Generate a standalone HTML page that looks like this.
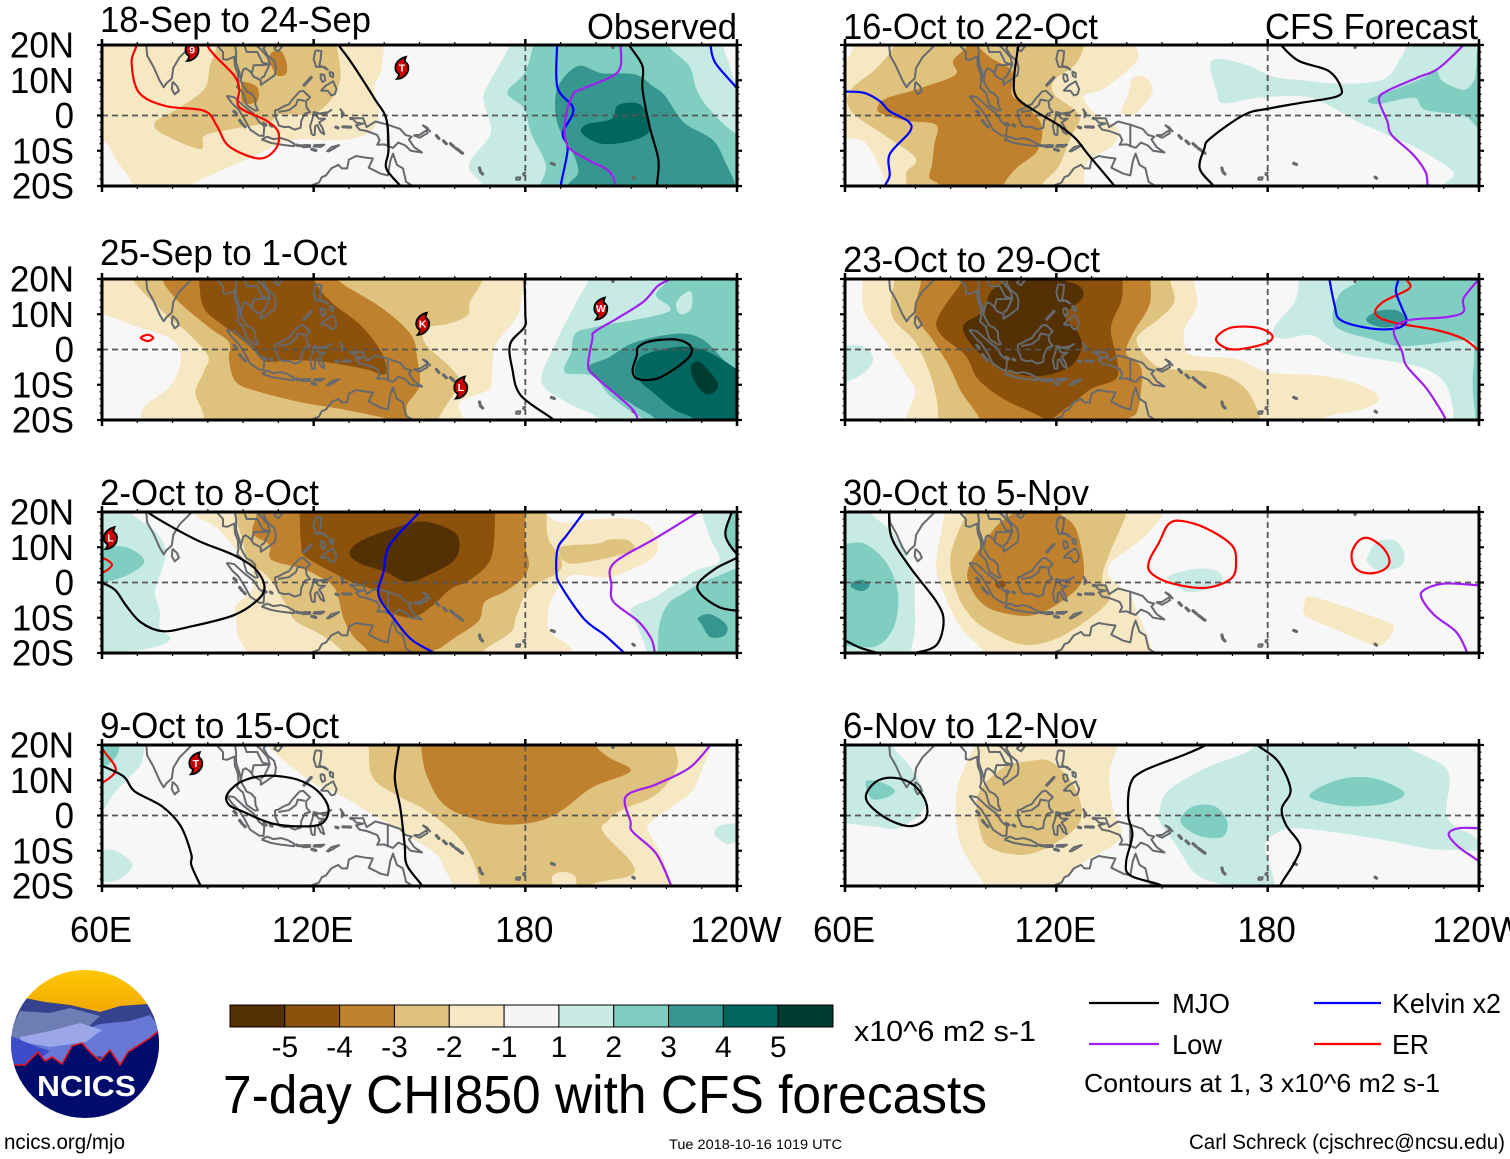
<!DOCTYPE html>
<html lang="en">
<head>
<meta charset="utf-8">
<title>7-day CHI850 with CFS forecasts</title>
<style>
html,body{margin:0;padding:0;background:#fff;width:1510px;height:1159px;overflow:hidden}
svg{display:block}
text{font-family:"Liberation Sans",sans-serif;fill:#000}
</style>
</head>
<body>
<svg id="chart" xmlns="http://www.w3.org/2000/svg" width="1510" height="1159" viewBox="0 0 1510 1159">
  <defs>
    <clipPath id="logo-clip"><ellipse cx="85" cy="1044" rx="74" ry="74"/></clipPath>
    <linearGradient id="sky" x1="0" y1="0" x2="0" y2="1"><stop offset="0" stop-color="#ffcb00"/><stop offset="1" stop-color="#ee9f06"/></linearGradient>
  </defs>
  <g id="panels"></g>

  <g font-size="36">
    <text x="100" y="32" textLength="271" lengthAdjust="spacingAndGlyphs">18-Sep to 24-Sep</text>
    <text x="587" y="39" textLength="150" lengthAdjust="spacingAndGlyphs">Observed</text>
    <text x="100" y="265" textLength="247" lengthAdjust="spacingAndGlyphs">25-Sep to 1-Oct</text>
    <text x="100" y="505" textLength="219" lengthAdjust="spacingAndGlyphs">2-Oct to 8-Oct</text>
    <text x="100" y="738" textLength="239" lengthAdjust="spacingAndGlyphs">9-Oct to 15-Oct</text>
    <text x="843" y="39" textLength="255" lengthAdjust="spacingAndGlyphs">16-Oct to 22-Oct</text>
    <text x="1265" y="39" textLength="213" lengthAdjust="spacingAndGlyphs">CFS Forecast</text>
    <text x="843" y="272" textLength="257" lengthAdjust="spacingAndGlyphs">23-Oct to 29-Oct</text>
    <text x="843" y="505" textLength="246" lengthAdjust="spacingAndGlyphs">30-Oct to 5-Nov</text>
    <text x="843" y="738" textLength="254" lengthAdjust="spacingAndGlyphs">6-Nov to 12-Nov</text>
  </g>

  <g>
    <g clip-path="url(#logo-clip)">
      <rect x="5" y="965" width="160" height="60" fill="url(#sky)"/>
      <polygon fill="#35438f" points="11,1006 25,998 45,1002 70,1005 100,1012 120,1006 148,1004 160,1020 160,1100 11,1100"/>
      <polygon fill="#6e7db4" points="11,1028 20,1011 50,1013 70,1008 100,1016 85,1030 60,1040 11,1048"/>
      <polygon fill="#6878d6" points="15,1060 28,1040 70,1035 100,1024 130,1021 150,1015 160,1028 160,1042 135,1060 120,1064 100,1056 11,1072"/>
      <polygon fill="#9ba7e9" points="20,1037 50,1031 80,1023 102,1030 86,1042 50,1047 22,1042"/>
      <polygon fill="#3b4dc9" points="11,1036 35,1046 50,1051 30,1066 11,1067"/>
      <polygon fill="#000c6c" stroke="#e8141e" stroke-width="1.6" points="11,1065 25,1065 38,1052 45,1061 52,1057 62,1064 72,1046 82,1043 90,1052 100,1061 110,1050 120,1065 128,1052 150,1038 162,1028 162,1122 9,1122"/>
    </g>
    <text x="37" y="1096" font-size="29" font-weight="700" textLength="99" lengthAdjust="spacingAndGlyphs" style="fill:#fff">NCICS</text>
  </g>

  <g id="colorbar"></g>
  <text x="854" y="1041" font-size="29" textLength="182" lengthAdjust="spacingAndGlyphs">x10^6 m2 s-1</text>
  <text x="223" y="1113" font-size="54" textLength="764" lengthAdjust="spacingAndGlyphs">7-day CHI850 with CFS forecasts</text>

  <g>
    <line x1="1089" x2="1159" y1="1003" y2="1003" stroke="#000" stroke-width="2.2"/>
    <text x="1172" y="1013" font-size="28" textLength="58" lengthAdjust="spacingAndGlyphs">MJO</text>
    <line x1="1314" x2="1381" y1="1003" y2="1003" stroke="#0000ff" stroke-width="2.2"/>
    <text x="1392" y="1013" font-size="28" textLength="109" lengthAdjust="spacingAndGlyphs">Kelvin x2</text>
    <line x1="1089" x2="1159" y1="1044" y2="1044" stroke="#a020f0" stroke-width="2.2"/>
    <text x="1172" y="1054" font-size="28" textLength="50" lengthAdjust="spacingAndGlyphs">Low</text>
    <line x1="1314" x2="1381" y1="1044" y2="1044" stroke="#ff0000" stroke-width="2.2"/>
    <text x="1392" y="1054" font-size="28" textLength="37" lengthAdjust="spacingAndGlyphs">ER</text>
    <text x="1084" y="1092" font-size="26" textLength="356" lengthAdjust="spacingAndGlyphs">Contours at 1, 3 x10^6 m2 s-1</text>
  </g>

  <text x="4" y="1149" font-size="21" textLength="121" lengthAdjust="spacingAndGlyphs">ncics.org/mjo</text>
  <text x="669" y="1149" font-size="14" textLength="173" lengthAdjust="spacingAndGlyphs">Tue 2018-10-16 1019 UTC</text>
  <text x="1189" y="1149" font-size="21" textLength="316" lengthAdjust="spacingAndGlyphs">Carl Schreck (cjschrec@ncsu.edu)</text>
</svg>

<script>
// ---------- axis data ----------
const lonMajorTicks = [60,120,180,240];
const lonTickLabels = ['60E','120E','180','120W'];
const latMajorTicks = [20,10,0,-10,-20];
const latTickLabels = ['20N','10N','0','10S','20S'];
const shadingColors = ['#543005','#8c510a','#bf812d','#dfc27d','#f6e8c3','#f5f5f5','#c7eae5','#80cdc1','#35978f','#01665e','#003c30'];
const colorbarLabels = ['-5','-4','-3','-2','-1','1','2','3','4','5'];

// ---------- coastlines (lon, lat) ----------
const coastlines = [
 [[68,23],[69,21],[72.5,20.5],[72.8,17],[74.5,14],[76.3,10],[77.5,8],[78.3,9.2],[79.8,10.5],[80.2,13.5],[82,16.5],[85,19.5],[87,21.5]],
 [[80,9.6],[81.3,8.3],[81.8,7],[80.6,6],[79.8,7.5],[80,9.6]],
 [[89,22],[91,22.5],[92,20.5],[94.3,18],[94.3,16],[95.5,15.8],[97.5,16.7],[97.7,14],[98.5,12],[98.7,9.5],[98.3,8],[100,6.5],[100.4,5],[101,3],[103.4,1.4],[104.2,1.5],[103.5,3],[103.4,5],[102.3,6.2],[101,6.8],[100,8.5],[99.3,10],[100,13],[100.7,13.4],[102,12.5],[103,11],[105,10],[105,8.7],[106.5,9.7],[109,11.5],[109.3,13.5],[108.8,15.5],[107,17],[105.8,19],[106.7,20.5],[108,21.5]],
 [[97.5,21],[98,18],[98,15],[99,12],[99.3,10.5]],
 [[100,21],[101,18],[104,18],[105.5,15],[107.5,14.5],[107,16.5],[105,18.8],[103,20.5],[102,22]],
 [[102.5,12],[103,14.3],[105.5,14.3],[107.5,14.5],[106,11.2],[105,10.5]],
 [[108.7,19],[110,20],[111,19.5],[110,18.2],[108.7,19]],
 [[120.5,18.5],[122.2,18.3],[122,16],[121.6,14.3],[124,13],[123,13.8],[120.7,13.8],[120,16],[120.5,18.5]],
 [[122,7],[123.5,8.5],[125.5,9.7],[126.5,7.5],[126,6],[125,5.7],[124,7],[122,7]],
 [[124.5,12.5],[125.5,12],[125.5,10.8],[124.7,11.2],[124.5,12.5]],
 [[122,11.8],[123,11.5],[123.3,10],[122.5,9.5],[122,10.5],[122,11.8]],
 [[95.3,5.6],[97.5,5.2],[100.4,2.5],[103,0.5],[104.5,-1.8],[106,-3],[105.8,-5.8],[104.5,-5.7],[102,-4],[100.4,-1],[98.7,1.7],[97,3.3],[95.3,5.6]],
 [[105.2,-6.8],[106.8,-6],[108.5,-6.7],[110.7,-6.4],[112.7,-7],[114.5,-8],[114.4,-8.7],[111,-8.3],[108,-7.8],[105.2,-6.8]],
 [[117,-8.4],[119,-8.4],[119,-8.9],[117,-9],[117,-8.4]],
 [[120,-8.4],[123,-8.3],[122,-8.9],[120,-8.8],[120,-8.4]],
 [[123.6,-10.3],[125,-9],[127.2,-8.4],[125.5,-9.5],[124,-10.3]],
 [[109,1.5],[110,1.7],[111.3,2.5],[113,3.2],[114,4.6],[116,6.8],[117,7],[119,5.2],[117.8,4],[118,2.2],[119,1],[117.5,0.5],[116.5,-1.5],[116.3,-3.5],[114.6,-4],[113,-3.2],[111.7,-3.3],[110.2,-2.9],[109.2,-0.5],[109,1.5]],
 [[110,1],[113,1.5],[115,3],[115.5,4.5],[117.5,4.2]],
 [[119.5,-5.5],[120.3,-5.5],[120.4,-3],[121,-2.7],[122,-4.7],[123,-5.3],[122.5,-3.5],[121.5,-2],[123.2,-0.9],[121.5,-0.9],[120.3,0.4],[124,0.9],[125,1.6],[123,0.2],[120,1],[119.7,-0.8],[119,-3],[119.5,-5.5]],
 [[127.5,2],[128,1],[128,-0.5],[128.5,0.5],[127.5,2]],
 [[131,-0.8],[134,-0.8],[135,-3.3],[137.5,-1.7],[141,-2.6],[144.5,-3.8],[146,-5.5],[147.8,-6],[147,-6.8],[148.5,-9],[150.7,-10.5],[147.5,-10],[146,-8.5],[144,-7.7],[142.5,-9.2],[140,-8.2],[138,-8.3],[138.7,-7],[138,-5.5],[135,-4.4],[133,-4],[132,-2.8],[134,-2.3],[132,-2],[131,-0.8]],
 [[141,-2.6],[141,-9]],
 [[148.3,-5.6],[150,-5.5],[152,-4.2],[152.3,-5],[150,-6.3],[148.3,-5.6]],
 [[150.8,-2.7],[153,-4.5],[152,-3.3],[150.8,-2.7]],
 [[113,-22],[116,-20.6],[119,-20],[121.5,-19],[122.3,-17.5],[123.5,-17],[125,-15],[127,-14],[128,-15],[129.5,-15],[130,-12.5],[132,-11.5],[135,-12],[136.8,-12.2],[135.6,-14.8],[139,-16.5],[141,-17],[141.7,-13],[142.5,-10.8],[143.6,-14],[145.3,-15],[146.2,-18.8],[148.5,-20.2],[150,-22.5]],
 [[177.3,-17.6],[178.6,-17.5],[178.4,-18.2],[177.4,-18.2],[177.3,-17.6]],[[179.2,-16.5],[180,-16.2],[179.6,-17],[179.2,-16.5]]
];
const smallIslands = [
 [[117.3,8.6],[119.3,10.8]],[[97.4,1.2],[98,0.6]],[[99,-1.4],[99.7,-2.3]],[[100.2,-2.8],[100.6,-3.2]],
 [[107.7,-2.7],[108.2,-3]],[[105.8,-2.2],[106.5,-2.7]],[[115.2,-8.4],[115.6,-8.5]],[[116.2,-8.6],[116.6,-8.6]],
 [[119.5,-9.6],[120.6,-9.9]],[[126.3,-3.3],[126.9,-3.5]],[[128.3,-3.2],[130.5,-3.3]],[[130.5,-0.8],[131,-0.9]],
 [[154.8,-5.7],[155.5,-6.5]],[[156.8,-7.2],[157.6,-8]],[[158.8,-8],[159.7,-8.8]],[[160.3,-9.3],[161.2,-9.9]],[[161.5,-10.2],[162.2,-10.7]],
 [[167,-14.9],[167.3,-16]],[[167.5,-16.2],[167.9,-16.6]],[[187.4,-13.6],[188.2,-13.9]],[[205,19.8],[204.8,19.3]],[[210.5,-17.5],[210.9,-17.8]]
];

// ---------- 18-Sep to 24-Sep ----------
const sep18Shading = [
 {level:-1,pts:[[141,26],[140,20],[139.2,13],[137.2,7.5],[138.5,0],[135.5,-5],[128,-7],[114,-7],[103,-11.5],[93,-16],[85,-20],[84,-25],[69,-25],[69,-20],[64,-12.5],[60.8,-7.5],[55,-7],[55,26]]},
 {level:-2,pts:[[92.6,26],[92.6,20],[90.6,14],[89,7.5],[81.6,2],[75,-2],[77.4,-5.3],[87.8,-9.5],[89,-5.8],[96,-4],[107,-2],[110.6,0.3],[119.6,0.3],[125,4.6],[127.6,11],[126.6,20],[126.6,26]]},
 {level:-3,pts:[[108,17.8],[110.5,18.4],[112.2,15.5],[112.3,12],[110,11.2],[108.5,13],[107.5,15.5]]},
 {level:-3,pts:[[100,9.5],[104,8],[104,4],[100,3.5],[99.5,7]]},
 {level:1,pts:[[175.6,26],[175.6,20],[168.8,7.5],[168.4,3],[170.2,-5],[164,-14],[168,-20],[168,-26],[246,-26],[246,9.5],[240,9.5],[237.7,15],[236,20],[236,26]]},
 {level:2,pts:[[182.2,26],[182.2,20],[179.7,12],[174.9,6.5],[179.7,2],[181.6,-5],[185.8,-14],[184.2,-20],[184.2,-26],[246,-26],[246,-5],[239.6,-5],[232,2],[228.5,7.5],[226.5,14],[220.4,20],[220.4,26]]},
 {level:3,pts:[[194.8,14],[201.6,12],[211,11.7],[216,8.4],[219.6,5.6],[225,-2],[233.2,-7],[236.8,-13.5],[239.6,-20],[239.6,-26],[192,-26],[192,-20],[195,-16],[193,-9.5],[189,-2],[189,7.5]]},
 {level:4,pts:[[206.4,3],[212.7,3],[215.4,-4],[210,-7.2],[201.6,-8],[196,-5],[197.4,-2.5],[204.4,-1]]}
];
const sep18Lines = [
 {kind:'er',closed:false,pts:[[69.8,24],[69.8,20],[68.4,15],[70.5,6.5],[78,2.7],[89,1.3],[92.6,-3],[96,-8.7],[104.4,-12.2],[109.2,-9.5],[110,-4.8],[106.5,-1.4],[98.9,2.4],[98.9,7.5],[97.5,11.3],[92,17],[89.9,20],[89.9,24]]},
 {kind:'mjo',closed:false,pts:[[125,23],[127,20],[130.7,15],[137.3,4.7],[140.6,-1],[141.2,-9.7],[140.6,-15],[144.6,-20],[146.6,-23]]},
 {kind:'mjo',closed:false,pts:[[208,23],[209.4,20],[213.2,14],[213.2,7.5],[215.2,-3],[217.3,-10.5],[217.8,-14.3],[217.3,-20],[217.3,-23]]},
 {kind:'kelvin',closed:false,pts:[[189,23],[189,20],[189.1,8],[193.6,1.8],[190.6,-5],[192,-9.5],[190,-20],[190,-23]]},
 {kind:'kelvin',closed:false,pts:[[232.5,23],[232.5,20],[233.8,15],[239.4,8.4],[242,5]]},
 {kind:'low',closed:false,pts:[[207,23],[207,20],[207,14],[204.4,11],[196,7.5],[193.3,5.6],[191.2,-2],[192,-8.6],[197.4,-12.4],[203.6,-15.7],[205.7,-20],[206,-23]]}
];
const sep18Storms = [{lon:85.5,lat:18.6,label:'9'},{lon:145,lat:13.5,label:'T'}];

// ---------- 25-Sep to 1-Oct ----------
const sep25Shading = [
 {level:-1,pts:[[55,10.5],[60.2,10],[68.7,6.9],[79.4,3],[82.4,-2.7],[79.4,-10.3],[72.2,-16],[71,-20],[71,-26],[162.5,-26],[162.5,-20],[161.3,-15],[168.5,-12],[170.3,-10],[171.5,1],[177.5,9],[179.3,16.4],[180,20],[180,26],[55,26]]},
 {level:-2,pts:[[68.6,26],[68.6,20],[78,10],[84,5],[90,-1.7],[89,-6],[86.5,-12],[88.3,-17],[89,-20],[89,-26],[155.3,-26],[155.3,-20],[160.7,-11],[161.3,-8.4],[158.3,-4.6],[151.7,1.6],[151.7,6],[158.3,7.3],[163.7,9.7],[164.3,13.5],[168,20],[168,26]]},
 {level:-3,pts:[[77,26],[77,20],[81.8,13.5],[90.7,6],[96,2],[96,-3],[98,-9.3],[104.5,-12],[116.5,-15],[128.4,-17],[140.4,-19.5],[145.8,-21],[147,-26],[147,-21],[146.4,-16],[150,-10.3],[149.4,-2.7],[147.5,4.3],[139,12],[126.6,20],[126.6,26]]},
 {level:-4,pts:[[87.5,26],[87.5,20],[89,11.6],[95.5,6],[102.7,0.2],[106.3,-3.4],[114,-3],[123.6,-3.6],[134.4,-5.5],[140.4,-7],[139.2,-0.8],[133.2,7],[124.8,13.6],[120,20],[120,26]]},
 {level:1,pts:[[198,26],[198,20],[194.2,13],[188.2,1],[184.6,-9.3],[191.8,-15],[201.4,-20],[201.4,-26],[246,-26],[246,26]]},
 {level:2,pts:[[220.5,26],[220.5,20],[217,15.4],[220.5,10.7],[200,6.4],[194.2,4.5],[193,-0.8],[191.2,-6.5],[199,-7.5],[203.8,-13],[210.4,-18],[213.4,-20],[213.4,-26],[246,-26],[246,26]]},
 {level:1,pts:[[224,15],[227,16.4],[227,11.5],[224,10],[222.7,12.5]]},
 {level:3,pts:[[197.8,-5.5],[203.8,-2.2],[211,2],[223,4.5],[230,3],[236,-2.7],[240,-6.5],[246,-7],[246,-26],[217,-26],[217,-20],[211,-16],[205,-12]]},
 {level:4,pts:[[211,-6],[213.3,-1.7],[223,0.7],[230,0],[236,-3],[241,-6],[246,-6],[246,-26],[229,-26],[228,-20],[222,-17],[216,-12],[212.5,-9]]},
 {level:5,pts:[[227,-4.6],[229.5,-3.6],[234.3,-9],[233.7,-12],[230.7,-12.4],[227.7,-8.5]]}
];
const sep25Lines = [
 {kind:'er',closed:true,pts:[[71,3.3],[73,4.2],[74.5,3.3],[73,2.4]]},
 {kind:'mjo',closed:false,pts:[[179.8,23],[179.8,20],[180,10],[179.8,6.4],[175.7,1.6],[176.3,-5.5],[178.7,-13],[187.6,-19.6],[190,-22]]},
 {kind:'mjo',closed:true,pts:[[212,0.7],[215.7,2.4],[223,2.8],[227,0.7],[225.9,-2.7],[218,-8],[212,-8.4],[210.4,-6],[211.6,-1.7]]},
 {kind:'low',closed:false,pts:[[223,22],[221,20],[217.5,18],[213.4,13.5],[206,8.8],[199.6,5],[199,3],[197.8,-4.6],[199.6,-7.5],[206,-13],[210.4,-17],[212,-20],[212.5,-23]]}
];
const sep25Storms = [{lon:150.9,lat:7.3,label:'K'},{lon:161.7,lat:-10.8,label:'L'},{lon:201.4,lat:11.6,label:'W'}];

// ---------- 2-Oct to 8-Oct ----------
const oct2Shading = [
 {level:1,pts:[[55,26],[68,26],[68,20],[74.6,15],[78,9.5],[77,3.7],[75,-2.6],[76.4,-8.3],[76.4,-13],[79.4,-16],[74.6,-18.4],[66,-19.6],[55,-20]]},
 {level:2,pts:[[55,10],[60,10],[67,10],[72,6],[67,2],[60,0],[55,0]]},
 {level:1,pts:[[230,26],[230,20],[232.5,12.5],[235,6],[227.7,3],[217,-4],[210,-7.5],[212,-13],[214.5,-20],[214.5,-26],[246,-26],[246,26]]},
 {level:2,pts:[[238,26],[238,20],[236.5,14],[239,9],[241,7],[246,7],[246,26]]},
 {level:2,pts:[[246,5],[240,4],[235,2],[230,0],[225,-3],[220.5,-6],[218,-12],[217.5,-20],[217,-26],[246,-26]]},
 {level:3,pts:[[229,-10],[232.5,-9],[237,-12],[236.5,-15],[232.5,-15.5],[230,-12]]},
 {level:-1,pts:[[85.4,26],[85.4,20],[92.5,15.5],[97.3,10],[102,4],[102.7,-1.7],[98,-6.5],[98,-10.3],[98.5,-15],[101,-20],[101,-26],[193,-26],[193,-20],[192.5,-18],[187,-14],[186.5,-8.3],[188,-3.6],[193,2],[204,1.6],[216,7],[217,13],[212,17.7],[200,18],[190.6,17],[185.8,20],[185.8,26]]},
 {level:-2,pts:[[97.3,26],[97.3,20],[99.7,12.6],[101.5,6],[107,1.6],[112.3,-6.5],[115,-11],[122.4,-15],[128.4,-20],[128.4,-26],[168,-26],[168,-20],[170,-18],[176,-14],[177.5,-9.5],[181,-2],[189.4,3],[190,7],[186.5,12.5],[186,20],[186,26]]},
 {level:-2,pts:[[190,10],[200,11],[204,12.2],[209,12],[211,10],[209,8.5],[201,6.5],[192,5.5]]},
 {level:-3,pts:[[104,26],[104,20],[102.7,14],[107.5,10.7],[108,6.5],[116.5,4],[121,2],[126,-1.7],[128.4,-10],[131,-15],[135.6,-20],[136,-26],[153.5,-26],[153.5,-20],[156,-18.5],[159.5,-16],[166.7,-11],[168.5,-5.5],[174,-2.7],[179,1],[181,5],[180,11],[180,20],[180,26]]},
 {level:-4,pts:[[116,26],[116,20],[116.5,10.7],[117.7,7.3],[127,2],[131,0],[138,-2.7],[140.4,-7.5],[147.5,-10],[153.5,-6.7],[159,-1.7],[164.3,0.7],[170.3,7],[171.5,20],[171.5,26]]},
 {level:-5,pts:[[142.8,15.4],[151,17.3],[159.5,14.5],[161.3,10.7],[159.5,6],[152.3,2],[146.4,0.2],[140.4,3],[133.2,5.4],[130.2,8.3],[133.2,11.7]]}
];
const oct2Lines = [
 {kind:'er',closed:false,pts:[[58,7],[60.6,6.8],[62.8,5],[60.6,3],[58,2.5]]},
 {kind:'mjo',closed:false,pts:[[69,23],[72.8,20],[79.4,16],[87.8,11.6],[97.3,7.8],[103.3,4],[106,-0.8],[104.5,-4.6],[97.3,-9.3],[84.2,-12.7],[77,-13.8],[71,-11.3],[66.8,-6.5],[63.8,-2.2],[60,0],[57,2]]},
 {kind:'mjo',closed:false,pts:[[239,23],[238.5,20],[236.7,13.5],[240,8],[243,6]]},
 {kind:'mjo',closed:false,pts:[[243,9],[240,7],[234,4],[229,-0.3],[230,-3.6],[235,-7],[240,-8],[243,-8]]},
 {kind:'kelvin',closed:false,pts:[[152,23],[150,20],[141.6,10.7],[139.8,3],[138.4,-3.6],[142.8,-10.3],[147.5,-16],[153.5,-19.6],[156,-21]]},
 {kind:'kelvin',closed:false,pts:[[198,23],[196.6,20],[191.8,13.5],[189.2,9.7],[188.8,3],[190,-0.8],[196.6,-10.3],[202.6,-15],[207.6,-19.6],[210,-22]]},
 {kind:'low',closed:false,pts:[[232,22],[229,20],[217,12.6],[205,5.4],[204.4,-0.8],[205,-5.5],[212,-11],[215.7,-16],[216.7,-20],[217,-23]]}
];
const oct2Storms = [{lon:62.4,lat:12.6,label:'L'}];

// ---------- 9-Oct to 15-Oct ----------
const oct9Shading = [
 {level:1,pts:[[55,26],[72,26],[72,20],[71,14.5],[67.5,10.7],[63.2,6],[60,1.5],[55,1]]},
 {level:1,pts:[[55,-9],[60,-9.5],[64.4,-10.3],[68.6,-14],[65,-18],[60,-19],[55,-19]]},
 {level:2,pts:[[55,26],[65,26],[65,20],[63.8,16.4],[60,13.5],[55,13]]},
 {level:1,pts:[[246,-2],[240,-2.2],[234.8,-3],[233.7,-5.5],[237,-8],[240,-7.5],[246,-7.5]]},
 {level:-1,pts:[[107,26],[107,20],[118.8,10],[127,6],[135.6,1],[146.4,-5.5],[154.7,-11],[157,-15],[159.5,-20],[160,-26],[221,-26],[221,-20],[219,-12],[215,-4.5],[215.7,-1.7],[226.5,6],[229.5,11.6],[232.5,20],[232.5,26]]},
 {level:-2,pts:[[135.6,26],[135.6,20],[136.8,10.7],[145,5],[151,2],[159.5,-4.6],[164.3,-11],[167.3,-20],[167.3,-26],[198,-26],[197.8,-20],[209.8,-17],[209.8,-13],[202,-4.6],[203.2,-1.7],[207.4,1.6],[217,5.9],[223,13.5],[222.3,20],[222.3,26]]},
 {level:-1,pts:[[187.6,-17.4],[190.6,-16],[194.2,-17.4],[193.6,-21],[188.8,-21]]},
 {level:-3,pts:[[150.5,26],[150.5,20],[151,15.4],[152.3,10.7],[156,4],[162,0.2],[172.7,-2.5],[183.4,-1.7],[190.6,1.6],[199,8],[209.8,12.6],[203.8,16.4],[200,20],[200,26]]}
];
const oct9Lines = [
 {kind:'er',closed:false,pts:[[57,23],[60.5,18.3],[63.9,13],[60.2,9.3],[57,8]]},
 {kind:'mjo',closed:false,pts:[[57,15],[60.2,14],[66.2,11],[69.2,6.9],[77,2.6],[82.3,-3],[85.3,-11],[85.3,-14],[87.8,-19.6],[89,-22]]},
 {kind:'mjo',closed:true,pts:[[95.5,6],[99.7,9.7],[106.9,11.3],[115.3,10.2],[121.2,6.9],[124.2,2],[122.4,-2.2],[116.5,-3.1],[108,-2.2],[99.7,1.2],[96,3]]},
 {kind:'mjo',closed:false,pts:[[144.2,23],[144.2,20],[143,10.7],[144.6,2],[145.8,-8.4],[146.4,-14],[150.5,-19.6],[152,-22]]},
 {kind:'low',closed:false,pts:[[235,23],[232.5,20],[226.5,13.5],[217,8.8],[208.5,5.4],[209.8,-1.7],[210.4,-4.6],[217,-10.7],[221.2,-19.6],[222,-23]]}
];
const oct9Storms = [{lon:86.6,lat:14.8,label:'T'}];

// ---------- 16-Oct to 22-Oct ----------
const oct16Shading = [
 {level:-1,pts:[[63,26],[62.5,20],[60,15],[57,13],[54,12],[54,-6],[57,-6],[60,-6.5],[65.5,-7.5],[70,-15],[71.5,-20],[71.5,-26],[127.8,-26],[127.8,-20],[129,-13],[136.2,-8.4],[137.4,-3.6],[131.4,0.2],[127.8,5.4],[133.8,7.8],[142.7,15.4],[142.7,20],[142.7,26]]},
 {level:-1,pts:[[141.6,10.5],[145,11],[147.4,7.7],[145.6,4],[142,0.2],[138.5,1],[140.4,6]]},
 {level:-2,pts:[[74,26],[74,20],[69,13.5],[61.3,6.8],[62,1],[70.3,-5],[80,-12],[77.5,-16],[77.5,-20],[77.5,-26],[115.8,-26],[115.8,-20],[120.6,-14.5],[124.2,-6],[126.6,-1.5],[125.4,1.5],[119.4,6],[119.4,10],[125.4,14.5],[127.8,20],[127.8,26]]},
 {level:-3,pts:[[94.9,24],[94.9,20],[90.7,15.5],[91.3,11.5],[80.5,7.5],[72,5],[69.5,3],[70,0.7],[77.5,-1.5],[85.9,-2.7],[85.3,-8.4],[84.7,-14],[84,-17.7],[87,-20],[87,-26],[105,-26],[105,-20],[108.6,-15],[114.6,-10],[115.8,-2.7],[111,3],[107.4,6],[107.4,12.6],[101.4,16.4],[97.8,20],[97.8,24]]},
 {level:1,pts:[[163.7,14.7],[167.3,16],[175,14],[181.7,11],[190,10],[200.8,9],[212.8,10.2],[217.6,16],[219.4,20],[219.4,26],[246,26],[246,-26],[230,-26],[230,-20],[232.6,-16],[222.4,-9.3],[214,-5.5],[205.6,-1.7],[195,4],[189,5.5],[177,5],[167.3,3.5],[165.5,7]]},
 {level:2,pts:[[208.6,4.5],[217.6,8],[224.8,11],[227.8,13],[229.6,9.8],[235.6,7.3],[238.6,10],[239.2,14],[240,19],[246,22],[246,-4],[240,-3.5],[235.6,0],[224.8,1.6],[221.8,5],[215.2,4],[211,3.2]]}
];
const oct16Lines = [
 {kind:'kelvin',closed:false,pts:[[57,7],[60,6.8],[65.5,6.4],[70,4],[72.7,1.2],[78,-1.7],[78.4,-4.6],[72.7,-11],[72.7,-17],[71.5,-19.6],[71,-22]]},
 {kind:'mjo',closed:false,pts:[[109.2,23],[109.2,20],[108,10.7],[108.6,5.4],[113.4,1.6],[120.6,-2.7],[125.4,-6.5],[129,-11],[136.2,-19.6],[138,-22]]},
 {kind:'mjo',closed:false,pts:[[182,23],[183.8,20],[188.8,15.5],[197.2,12.7],[200.8,8],[199.6,5.4],[188.8,3.5],[180.5,2],[173.3,0.2],[163.7,-6.5],[162,-9.4],[160.7,-15],[164.3,-19.6],[166,-22]]},
 {kind:'low',closed:false,pts:[[237,22],[235.6,20],[228.4,13.3],[222.4,10.7],[214,7],[211.6,4.5],[214,-1.7],[215.2,-5.5],[221.2,-11],[224.8,-16],[225.4,-19.6],[226,-23]]}
];
const oct16Storms = [];

// ---------- 23-Oct to 29-Oct ----------
const oct23Shading = [
 {level:1,pts:[[54,1],[60,1.2],[65.5,0.7],[68,-2.6],[65.5,-6.5],[60,-9.3],[54,-10]]},
 {level:-1,pts:[[65,26],[65,20],[65.5,10.7],[71.5,2],[77,-6.5],[80,-12],[77,-20],[77,-26],[196.6,-26],[196.6,-21],[197.2,-19],[206.8,-17],[211.6,-14],[206.8,-10.3],[196,-7.5],[180.5,-6.5],[171,-2.7],[159,-1.7],[156.5,0.7],[156.5,6],[160,12.6],[159,20],[159,26]]},
 {level:-2,pts:[[74,26],[74,20],[73.3,9.7],[80,2],[84,-6.5],[86,-14],[86.5,-20],[86.5,-26],[177.5,-26],[177.5,-20],[177.5,-18],[173.3,-10.7],[165,-6.5],[151.7,-5.5],[147,-3.6],[142.8,3],[149.3,8.8],[153.5,13.5],[152.3,20],[152.3,26]]},
 {level:-3,pts:[[81.7,26],[81.7,20],[80,10],[84.7,3],[89.5,-4.6],[93,-12],[98.4,-20],[99,-26],[140.4,-26],[140.4,-20],[142.8,-18],[144,-12],[144,-5],[139.8,-1],[142,5],[146.4,12.6],[146.7,20],[146.7,26]]},
 {level:-4,pts:[[93.6,26],[93.6,20],[85.9,7],[94.2,-1.7],[97.8,-8.4],[105,-14],[117,-20],[118,-24],[118.8,-20],[125.4,-14.7],[130.2,-11],[136.8,-8.4],[137.4,-3.6],[135.5,6],[138.5,14],[138.8,20],[138.8,26]]},
 {level:-5,pts:[[106.2,24],[106.2,20],[101.4,16.4],[99,10.7],[93.6,6.9],[95.4,2],[100.2,-2.7],[107.4,-6.5],[115.8,-7.5],[124.2,-4.6],[127.2,1.2],[125.4,6],[122.4,9.8],[127.4,14.6],[126.6,18],[121.8,20],[121.8,24]]},
 {level:1,pts:[[188.9,26],[188.9,20],[187.7,13.5],[181.7,6],[184,3],[192.5,4],[200.8,-0.8],[216.4,-3.6],[224.8,-5.5],[230.8,-10.3],[233,-20],[233,-26],[246,-26],[246,26]]},
 {level:2,pts:[[206.2,26],[206.2,20],[200.2,15.4],[199,6.9],[209.2,3],[218.8,1],[236.8,2.6],[238.6,-0.7],[238.2,-10],[239,-20],[239,-26],[246,-26],[246,26]]},
 {level:3,pts:[[208,8.8],[211.6,11],[217,11],[219.4,8],[214,6.3],[209.8,7]]}
];
const oct23Lines = [
 {kind:'er',closed:true,pts:[[165.5,3.5],[169.7,6.2],[176.9,6.2],[181.3,4],[179.3,1.7],[170.9,0],[166.7,1.2]]},
 {kind:'er',closed:false,pts:[[219,23],[219.4,20],[220.2,17.3],[212.8,13.5],[210.6,10.2],[215.2,7.8],[228.4,5.4],[235.6,3],[240,-0.3],[243,-2]]},
 {kind:'kelvin',closed:false,pts:[[197,23],[197.5,20],[199,12.6],[200.8,8.3],[209.2,6],[216.4,6],[219.4,8],[218.2,11.6],[216.4,16.4],[217.2,20],[218,23]]},
 {kind:'low',closed:false,pts:[[242,23],[240,20],[235.6,14.5],[235.6,10.7],[230.8,9.2],[220,8.3],[215.8,5.4],[218.2,-0.7],[219.4,-4.6],[224.8,-10.7],[228.4,-16],[230.4,-19.6],[231,-23]]}
];
const oct23Storms = [];

// ---------- 30-Oct to 5-Nov ----------
const oct30Shading = [
 {level:1,pts:[[54,26],[67.3,26],[67.3,20],[73.9,13.5],[79.2,3],[79.8,-6.5],[79.8,-14],[78.7,-20],[78.7,-26],[54,-26]]},
 {level:2,pts:[[54,11],[60,11],[65.5,11],[71.5,6],[75,-2.7],[74,-12.3],[69,-18],[60,-18],[54,-18]]},
 {level:3,pts:[[62,0],[65,0.7],[67,-0.8],[65,-2.4],[62,-1.5]]},
 {level:1,pts:[[151.7,1.7],[159,3.8],[165,3.5],[167.3,1],[165,-1.3],[157.7,-2.8],[154,-0.8]]},
 {level:1,pts:[[208.6,7.8],[211,11.6],[216.4,11.8],[218.8,7.8],[217.6,4.5],[211.6,3.3],[208.2,5.9]]},
 {level:-1,pts:[[88.3,26],[88.3,20],[85.9,5],[88.3,-3.6],[93,-13],[99.6,-20],[100,-26],[147.5,-26],[147.5,-20],[142.8,-8],[140.4,-3],[135.5,1],[135,5],[139.8,9],[145,13],[150.5,20],[150.5,26]]},
 {level:-1,pts:[[190.7,-5],[192.4,-4],[200.8,-6.5],[214,-11.2],[215.8,-13],[212.8,-17.5],[209.2,-17.5],[198.4,-13],[190.7,-9.3]]},
 {level:-2,pts:[[94.3,26],[94.3,20],[90,7.8],[91.3,-1.7],[95.4,-9.3],[101.4,-14],[109.8,-17.5],[117,-17],[125.4,-13],[135,-5],[133,1],[135,8],[138.5,16],[139.8,20],[139.8,26]]},
 {level:-3,pts:[[102.6,15.5],[95.4,5],[95.4,-0.8],[99.6,-6.5],[106.2,-8.9],[113.4,-9.3],[120.6,-6],[126.6,-0.8],[127.8,5],[125.4,15.5],[120.6,20],[120,24],[110,24],[108,20]]},
 {level:-4,pts:[[103,0],[105,0.5],[105.5,-1],[104,-1.8],[102.8,-1]]}
];
const oct30Lines = [
 {kind:'er',closed:true,pts:[[151.7,16.4],[155.3,17.5],[162.5,15.4],[169.7,10.7],[171,6],[169.7,1.2],[162.5,-1.5],[153,-0.3],[147,2.6],[146.3,6],[149.3,11.6]]},
 {kind:'er',closed:true,pts:[[203.8,7.8],[205.6,11.6],[208.6,12.6],[212.8,9.8],[214.6,6],[212.8,3.5],[208.6,2.6],[205,4]]},
 {kind:'mjo',closed:false,pts:[[72.5,23],[72.5,20],[73.3,12.6],[78.7,4],[86,-5.5],[88,-11],[86,-17.7],[80,-20],[76,-21]]},
 {kind:'mjo',closed:false,pts:[[57,-16],[60,-16.5],[64.3,-18.5],[70.3,-20.3],[73,-21]]},
 {kind:'low',closed:false,pts:[[245,-0.8],[240,-0.8],[230,-0.3],[224.3,-2.2],[223.8,-4.6],[227.4,-9.3],[233.5,-14],[236.5,-19.6],[237,-23]]}
];
const oct30Storms = [];

// ---------- 6-Nov to 12-Nov ----------
const nov6Shading = [
 {level:-1,pts:[[96.7,26],[96.7,20],[91.9,7.8],[91.9,-4.6],[94.9,-12.3],[99.6,-20],[100,-26],[120.6,-26],[120.6,-20],[127.8,-13.3],[136.2,-8.4],[138.6,-4.6],[136.2,1.2],[135,11.6],[137.4,20],[137.4,26]]},
 {level:-2,pts:[[112.2,15.4],[118.2,15.4],[124.2,9.7],[127.2,2],[125.4,-3.6],[117,-9.3],[109.8,-11.2],[101.4,-9.3],[98.4,-4.6],[97.8,6],[105,13.6]]},
 {level:1,pts:[[54,26],[73.3,26],[73.3,20],[78.7,13.5],[83,5],[81,0.2],[75,-3.6],[69,-3.2],[60,-2.2],[54,-2]]},
 {level:2,pts:[[66,9.7],[70.9,9.2],[74.2,6.9],[70.9,4.8],[67.3,5]]},
 {level:1,pts:[[149.3,1.2],[151.7,7],[162.5,13.5],[175.7,19],[177,26],[218.8,26],[218.8,20],[230.8,13.2],[230.8,3],[230.8,0],[233,-3],[238,-5.5],[240,-7],[246,-7],[246,-11],[240,-10],[230,-9.7],[224.8,-9.3],[210.4,-6.5],[188.9,-3.6],[181.7,-5.5],[179.3,-9.3],[181.7,-20],[175,-20.5],[165,-19],[159,-16],[154,-8.4],[149.3,-1.7]]},
 {level:2,pts:[[155.3,-0.8],[158.9,2.6],[165,2.6],[168.5,-1.7],[167.3,-6],[161.3,-6],[156.5,-3.4]]},
 {level:2,pts:[[191.9,5.9],[197.3,9.2],[204.4,10.9],[211.6,10.2],[218.8,6.4],[214,3.5],[203.2,2.6],[194.8,4]]}
];
const nov6Lines = [
 {kind:'mjo',closed:true,pts:[[66,5.9],[69,9.7],[73.9,10.7],[79.3,8.8],[82.9,4],[82.9,-0.8],[78.7,-3],[72.7,-1.3],[67.3,2.6]]},
 {kind:'mjo',closed:false,pts:[[165,22],[162.5,20],[156.5,17.3],[144.6,12.6],[141,8.8],[140.4,0.2],[141.6,-5.5],[139.8,-13.2],[141,-17],[149.3,-19.6],[152,-21]]},
 {kind:'mjo',closed:false,pts:[[175,22],[177,20],[182.9,15.4],[186.5,7.3],[184,2],[185.3,-2.8],[189.2,-8.4],[187.7,-13.2],[183.7,-19.6],[183,-23]]},
 {kind:'low',closed:false,pts:[[245,-3.6],[240,-3.6],[234.3,-3.6],[231.4,-5.3],[234.3,-9],[240,-13],[245,-17]]}
];
const nov6Storms = [];

// ---------- drawing helpers ----------
const NS = 'http://www.w3.org/2000/svg';
const root = document.getElementById('panels');

function make(tag, attrs, parent){
  const el = document.createElementNS(NS, tag);
  for (const k in attrs) el.setAttribute(k, attrs[k]);
  parent.appendChild(el);
  return el;
}
function lonAxis(p, lon){ return p.x + (lon - 60) * p.w / 180; }
function latAxis(p, lat){ return p.y + (20 - lat) * p.h / 40; }
function levelColor(level){
  const abs = Math.abs(level);
  const idx = level < 0 ? 5 - abs : 5 + abs;
  return shadingColors[idx];
}
function smoothPath(p, pts, closed){
  const xy = pts.map(q => [lonAxis(p, q[0]), latAxis(p, q[1])]);
  const n = xy.length;
  const at = i => closed ? xy[(i + n) % n] : xy[Math.max(0, Math.min(n - 1, i))];
  let d = 'M' + xy[0][0].toFixed(1) + ' ' + xy[0][1].toFixed(1);
  const segs = closed ? n : n - 1;
  for (let i = 0; i < segs; i++){
    const a = at(i - 1), b = at(i), c = at(i + 1), e = at(i + 2);
    const c1x = b[0] + (c[0] - a[0]) / 6, c1y = b[1] + (c[1] - a[1]) / 6;
    const c2x = c[0] - (e[0] - b[0]) / 6, c2y = c[1] - (e[1] - b[1]) / 6;
    d += 'C' + c1x.toFixed(1) + ' ' + c1y.toFixed(1) + ' ' + c2x.toFixed(1) + ' ' + c2y.toFixed(1) + ' ' + c[0].toFixed(1) + ' ' + c[1].toFixed(1);
  }
  return d + (closed ? 'Z' : '');
}
function straightPath(p, pts){
  return pts.map((q, i) => (i ? 'L' : 'M') + lonAxis(p, q[0]).toFixed(1) + ' ' + latAxis(p, q[1]).toFixed(1)).join('');
}
function lineColor(kind){
  if (kind === 'mjo') return '#000000';
  if (kind === 'kelvin') return '#0000ff';
  if (kind === 'low') return '#a020f0';
  return '#ff0000';
}

function drawPanel(id, x, y, w, h, shading, lines, storms, showLatLabels, showLonLabels){
  const p = {x:x, y:y, w:w, h:h};
  const g = make('g', {}, root);
  
  

  const clip = make('clipPath', {id:'clip-' + id}, g);
  make('rect', {x:x, y:y, width:w, height:h}, clip);

  const body = make('g', {'clip-path':'url(#clip-' + id + ')'}, g);
  const bg = make('rect', {x:x, y:y, width:w, height:h, fill:'#f7f7f7'}, body);
  
  

  shading.forEach(s => {
    const el = make('path', {d:smoothPath(p, s.pts, true), fill:levelColor(s.level)}, body);
    
    
  });
  coastlines.forEach(c => {
    const el = make('path', {d:straightPath(p, c), fill:'none', stroke:'#666a6e', 'stroke-width':2, 'stroke-linejoin':'round'}, body);
    
    
  });
  smallIslands.forEach(c => {
    const el = make('path', {d:straightPath(p, c), fill:'none', stroke:'#666a6e', 'stroke-width':3.2, 'stroke-linecap':'round'}, body);
    
    
  });
  const eq = make('line', {x1:x, x2:x + w, y1:latAxis(p, 0), y2:latAxis(p, 0), stroke:'#555', 'stroke-width':1.8, 'stroke-dasharray':'6 4'}, body);
  
  
  const dl = make('line', {x1:lonAxis(p, 180), x2:lonAxis(p, 180), y1:y, y2:y + h, stroke:'#555', 'stroke-width':1.8, 'stroke-dasharray':'6 4'}, body);
  
  

  lines.forEach(l => {
    const el = make('path', {d:smoothPath(p, l.pts, l.closed), fill:'none', stroke:lineColor(l.kind), 'stroke-width':2.2}, body);
    
    
  });

  storms.forEach(s => {
    const cx = lonAxis(p, s.lon), cy = latAxis(p, s.lat);
    const sg = make('g', {transform:'translate(' + cx.toFixed(1) + ' ' + cy.toFixed(1) + ')'}, body);
    
    
    make('path', {d:'M4 -11C0 -10 -6.5 -7 -6.5 0C-6.5 3 -5 5 -3 6C-3 8 -4 10 -5 11C0 11 6.5 7 6.5 0C6.5 -3 5 -5 3 -6C3 -8 3.5 -10 4 -11Z', fill:'#cc0000', stroke:'#000', 'stroke-width':1.8}, sg);
    const t = make('text', {x:0, y:3.6, 'font-size':10.5, 'font-weight':700, 'text-anchor':'middle', style:'fill:#fff'}, sg);
    t.textContent = s.label;
  });

  // frame and ticks
  const ax = make('g', {}, g);
  
  
  for (let lon = 60; lon <= 240; lon += 10){
    const major = lonMajorTicks.indexOf(lon) >= 0;
    const len = major ? 6 : 3;
    const tx = lonAxis(p, lon);
    make('line', {x1:tx, x2:tx, y1:y - len, y2:y, stroke:'#000', 'stroke-width':major ? 2.5 : 1.2}, ax);
    make('line', {x1:tx, x2:tx, y1:y + h, y2:y + h + len, stroke:'#000', 'stroke-width':major ? 2.5 : 1.2}, ax);
  }
  for (let lat = -20; lat <= 20; lat += 2){
    const major = latMajorTicks.indexOf(lat) >= 0;
    const len = major ? 5 : 2.5;
    const ty = latAxis(p, lat);
    make('line', {x1:x - len, x2:x, y1:ty, y2:ty, stroke:'#000', 'stroke-width':major ? 2.2 : 1.1}, ax);
    make('line', {x1:x + w, x2:x + w + len, y1:ty, y2:ty, stroke:'#000', 'stroke-width':major ? 2.2 : 1.1}, ax);
  }
  const frame = make('rect', {x:x, y:y, width:w, height:h, fill:'none', stroke:'#000', 'stroke-width':3}, ax);
  
  

  if (showLatLabels){
    latMajorTicks.forEach((lat, i) => {
      const t = make('text', {x:74, y:latAxis(p, lat) + 12.5, 'font-size':36, 'text-anchor':'end'}, ax);
      
      
      t.textContent = latTickLabels[i];
      t.setAttribute('lengthAdjust', 'spacingAndGlyphs');
      t.setAttribute('textLength', (t.getComputedTextLength() * 0.97).toFixed(1));
    });
  }
  if (showLonLabels){
    lonMajorTicks.forEach((lon, i) => {
      const t = make('text', {x:lonAxis(p, lon) - 1, y:y + h + 56, 'font-size':36, 'text-anchor':'middle'}, ax);
      
      
      t.textContent = lonTickLabels[i];
      t.setAttribute('lengthAdjust', 'spacingAndGlyphs');
      t.setAttribute('textLength', (t.getComputedTextLength() * 0.97).toFixed(1));
    });
  }
}

function drawColorbar(){
  const g = document.getElementById('colorbar');
  const x0 = 230, y0 = 1005, cw = 603 / shadingColors.length, ch = 22;
  shadingColors.forEach((c, i) => {
    const r = make('rect', {x:x0 + i * cw, y:y0, width:cw, height:ch, fill:c, stroke:'#000', 'stroke-width':1}, g);
    
    
  });
  colorbarLabels.forEach((lab, i) => {
    const t = make('text', {x:x0 + (i + 1) * cw, y:1057, 'font-size':30, 'text-anchor':'middle'}, g);
    
    
    t.textContent = lab;
  });
}

drawPanel('sep-18', 102, 45, 635, 141, sep18Shading, sep18Lines, sep18Storms, true, false);
drawPanel('sep-25', 102, 279, 635, 141, sep25Shading, sep25Lines, sep25Storms, true, false);
drawPanel('oct-2', 102, 512, 635, 141, oct2Shading, oct2Lines, oct2Storms, true, false);
drawPanel('oct-9', 102, 745, 635, 141, oct9Shading, oct9Lines, oct9Storms, true, true);
drawPanel('oct-16', 845, 45, 634, 141, oct16Shading, oct16Lines, oct16Storms, false, false);
drawPanel('oct-23', 845, 279, 634, 141, oct23Shading, oct23Lines, oct23Storms, false, false);
drawPanel('oct-30', 845, 512, 634, 141, oct30Shading, oct30Lines, oct30Storms, false, false);
drawPanel('nov-6', 845, 745, 634, 141, nov6Shading, nov6Lines, nov6Storms, false, true);
drawColorbar();
</script>
</body>
</html>
